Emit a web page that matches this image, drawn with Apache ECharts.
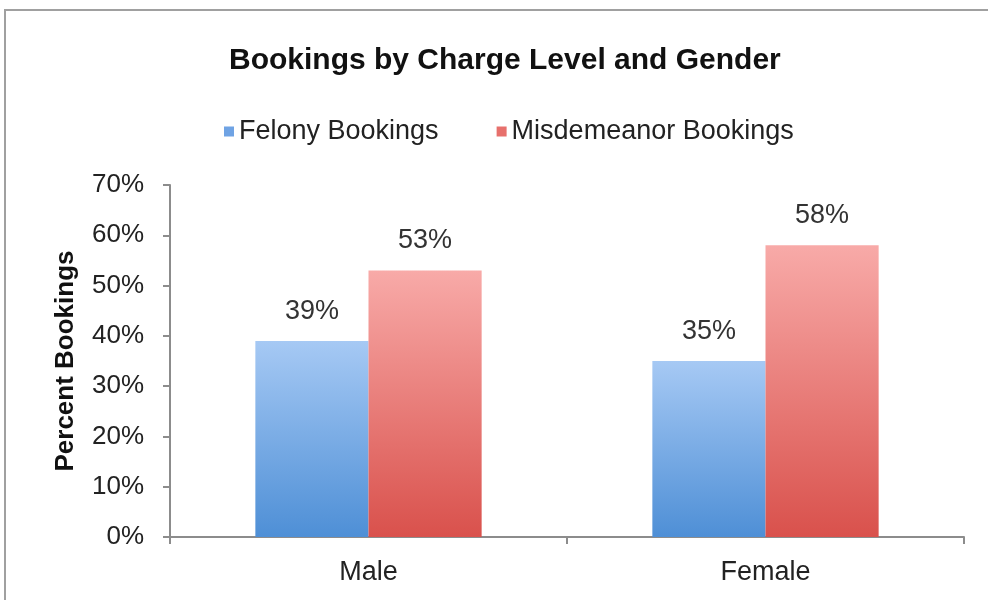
<!DOCTYPE html>
<html>
<head>
<meta charset="utf-8">
<script src="https://cdn.jsdelivr.net/npm/echarts@6/dist/echarts.min.js"></script>
<style>
html,body{margin:0;padding:0;background:#fff;}
#chart{width:988px;height:600px;}
</style>
</head>
<body>
<div id="chart"></div>
<script>
var categories = ['Male', 'Female'];
var felony = [39, 35];
var misdemeanor = [53, 58];
var seriesNames = ['Felony Bookings', 'Misdemeanor Bookings'];
var titleText = 'Bookings by Charge Level and Gender';
var yAxisName = 'Percent Bookings';

var chart = echarts.init(document.getElementById('chart'));
var font = '"Liberation Sans", Arial, sans-serif';
function grad(top, bottom) {
  return new echarts.graphic.LinearGradient(0, 0, 0, 1, [
    {offset: 0, color: top}, {offset: 1, color: bottom}
  ]);
}
var labelCfg = {
  show: true, position: 'top', distance: 16,
  formatter: function (p) { return p.value + '%'; },
  color: '#333', fontFamily: font, fontSize: 27
};
chart.setOption({
  animation: false,
  backgroundColor: '#fff',
  graphic: [{
    type: 'rect', shape: {x: 5, y: 10, width: 1000, height: 620},
    style: {fill: 'none', stroke: '#a0a0a0', lineWidth: 2}, z: 100
  }],
  title: {
    text: titleText, left: 224, top: 41,
    textStyle: {fontFamily: font, fontWeight: 'bold', fontSize: 30, color: '#111'}
  },
  legend: {
    top: 113, left: 219, itemGap: 58,
    itemWidth: 10, itemHeight: 10, icon: 'rect',
    textStyle: {fontFamily: font, fontSize: 27, color: '#222'},
    data: [
      {name: seriesNames[0], itemStyle: {color: '#6fa3e4'}},
      {name: seriesNames[1], itemStyle: {color: '#e7706c'}}
    ]
  },
  grid: {left: 170, right: 24, top: 185, bottom: 63},
  xAxis: {
    type: 'category', data: categories,
    axisLine: {lineStyle: {color: '#8c8c8c', width: 2}},
    axisTick: {show: true, length: 7, lineStyle: {color: '#8c8c8c', width: 2}},
    axisLabel: {fontFamily: font, fontSize: 27, color: '#222', margin: 22}
  },
  yAxis: {
    type: 'value', min: 0, max: 70, interval: 10,
    name: yAxisName, nameLocation: 'middle', nameGap: 91,
    nameTextStyle: {fontFamily: font, fontWeight: 'bold', fontSize: 26, color: '#111'},
    axisLine: {show: true, lineStyle: {color: '#8c8c8c', width: 2}},
    axisTick: {show: true, length: 7, lineStyle: {color: '#8c8c8c', width: 2}},
    splitLine: {show: false},
    axisLabel: {formatter: '{value}%', fontFamily: font, fontSize: 26, color: '#222', margin: 26}
  },
  series: [
    {
      name: seriesNames[0], type: 'bar', data: felony,
      barGap: '0%', barCategoryGap: '43%',
      itemStyle: {color: grad('#a6c9f4', '#4e8fd6')},
      label: labelCfg
    },
    {
      name: seriesNames[1], type: 'bar', data: misdemeanor,
      barGap: '0%', barCategoryGap: '43%',
      itemStyle: {color: grad('#f8aaa8', '#d9514c')},
      label: labelCfg
    }
  ]
});
</script>
</body>
</html>
